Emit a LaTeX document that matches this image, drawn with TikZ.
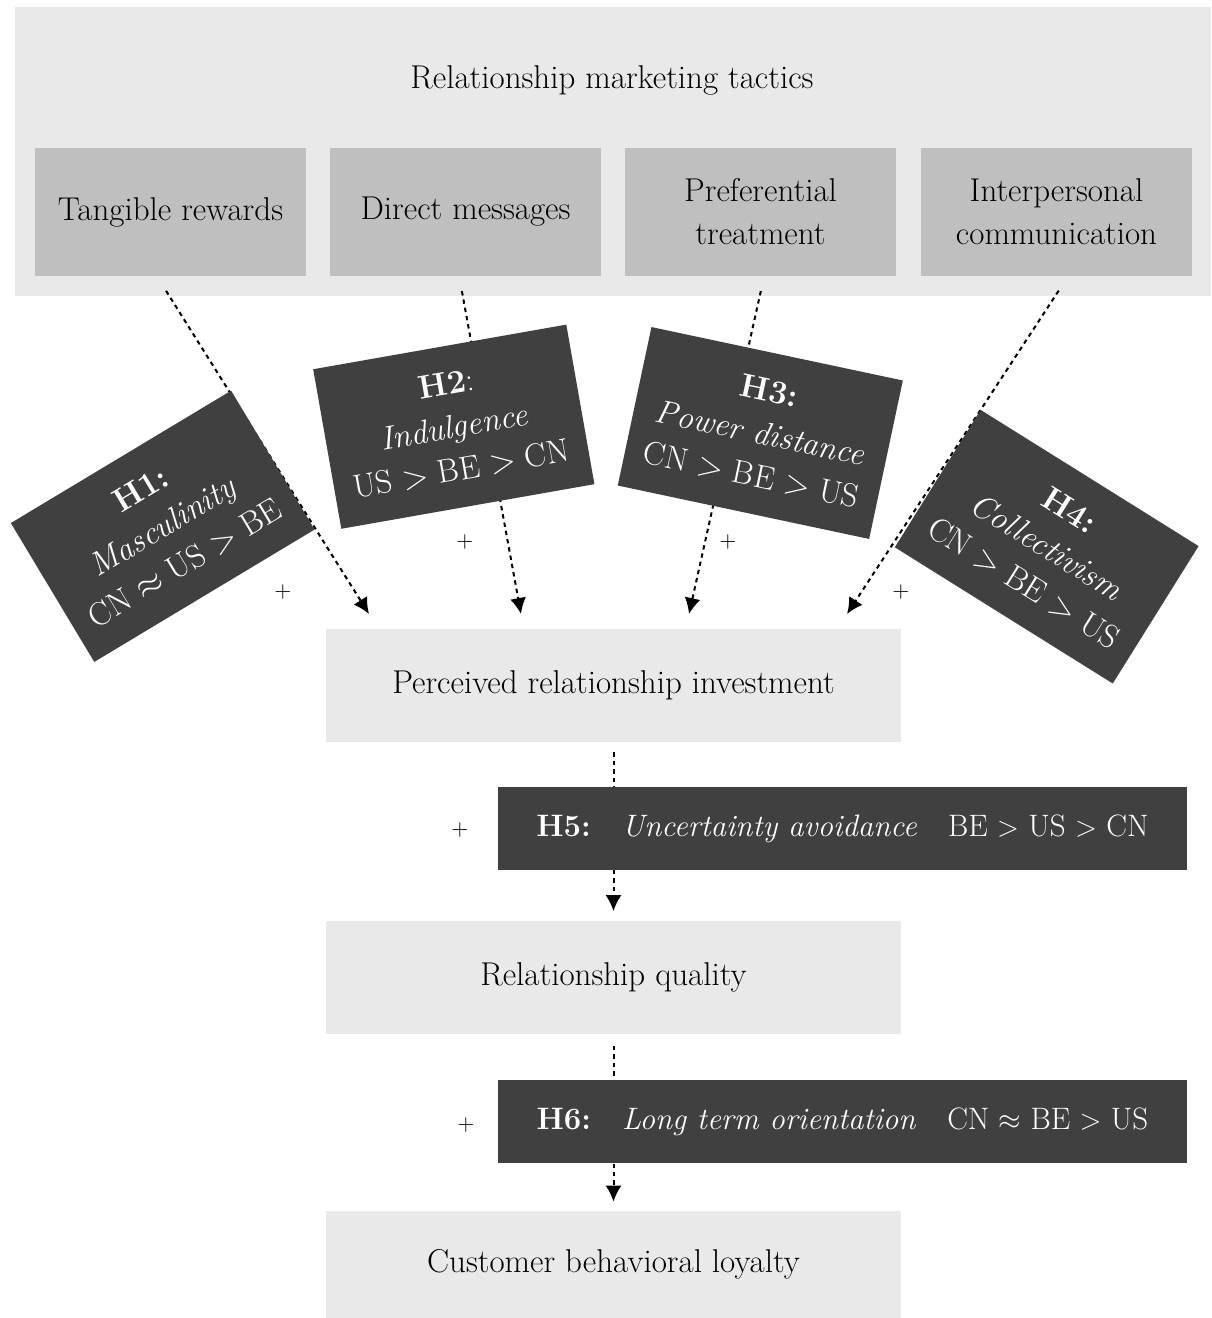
\documentclass[tikz,border=0pt]{standalone}
\usetikzlibrary{arrows.meta}
\definecolor{boxlight}{RGB}{233,233,233}
\definecolor{boxmid}{RGB}{191,191,191}
\definecolor{boxdark}{RGB}{64,64,64}
\tikzset{
  tactic/.style={fill=boxmid, minimum width=135.5pt, minimum height=64pt, align=center, inner sep=0pt},
  construct/.style={fill=boxlight, minimum width=287.5pt, minimum height=56.5pt, inner sep=0pt},
  hypo/.style={fill=boxdark, text=white, minimum width=128.5pt, minimum height=81pt, align=center, inner sep=0pt},
  hypobar/.style={fill=boxdark, text=white, minimum width=344.5pt, minimum height=41.5pt, inner sep=0pt, font=\fontsize{15.5}{19}\selectfont},
  effect/.style={dash pattern=on 2.2pt off 2pt, line width=1pt, -{Latex[length=8pt,width=8pt]}},
  sign/.style={font=\fontsize{11}{13}\selectfont, inner sep=0pt},
}
\begin{document}
\begin{tikzpicture}[x=0.5pt, y=-0.5pt, font=\fontsize{16.5}{21.5}\selectfont]
\useasboundingbox (0,0) rectangle (1211,1318);
% tactics
\node[fill=boxlight, minimum width=598pt, minimum height=144.5pt, inner sep=0pt] (rmt) at (613,151.5) {};
\node (title) at (612,80) {Relationship marketing tactics};
\node[tactic] (tr) at (170.5,212) {Tangible rewards};
\node[tactic] (dm) at (465.5,212) {Direct messages};
\node[tactic] (pt) at (760.5,212) {Preferential\\treatment};
\node[tactic] (ic) at (1056.5,212) {Interpersonal\\communication};
% outcomes
\node[construct] (pri) at (613.5,685.5) {Perceived relationship investment};
\node[construct] (rq) at (613.5,977) {Relationship quality};
\node[construct, minimum height=53.5pt] (cbl) at (613.5,1264.5) {Customer behavioral loyalty};
% effects
\coordinate (e1) at (369,614);
\coordinate (e2) at (521,614);
\coordinate (e3) at (689,614);
\coordinate (e4) at (847,614);
\draw[effect, shorten <=8.5pt] ([xshift=-6.75pt]tr.south) -- (e1);
\draw[effect, shorten <=7.5pt] ([xshift=-3.15pt]dm.south) -- (e2);
\draw[effect, shorten <=7.5pt] ([xshift=1.8pt]pt.south) -- (e3);
\draw[effect, shorten <=8.5pt] ([xshift=5.75pt]ic.south) -- (e4);
\draw[effect, shorten <=5pt, shorten >=4.5pt] (pri.south) -- (rq.north);
\draw[effect, shorten <=6pt, shorten >=4.5pt] (rq.south) -- (cbl.north);
% moderators
\node[hypo, rotate=31] (h1) at (162.7,526.3) {\textbf{H1:}\\\textit{Masculinity}\\CN $\approx$ US $>$ BE};
\node[hypo, rotate=10] (h2) at (453.8,426.7) {\textbf{H2}:\\\textit{Indulgence}\\US $>$ BE $>$ CN};
\node[hypo, rotate=-12] (h3) at (760.3,433) {\textbf{H3:}\\\textit{Power distance}\\CN $>$ BE $>$ US};
\node[hypo, rotate=-32] (h4) at (1046.7,546.7) {\textbf{H4:}\\\textit{Collectivism}\\CN $>$ BE $>$ US};
\node[hypobar] (h5) at (842.5,828.5) {\textbf{H5:}\quad\textit{Uncertainty avoidance}\quad BE $>$ US $>$ CN};
\node[hypobar] (h6) at (842.5,1121.5) {\textbf{H6:}\quad\textit{Long term orientation}\quad CN $\approx$ BE $>$ US};
% signs
\node[sign] (p1) at (283,592) {$+$};
\node[sign] (p2) at (465,542) {$+$};
\node[sign] (p3) at (728,542) {$+$};
\node[sign] (p4) at (901,592) {$+$};
\node[sign] (p5) at (460,830) {$+$};
\node[sign] (p6) at (466,1125) {$+$};
\end{tikzpicture}
\end{document}
